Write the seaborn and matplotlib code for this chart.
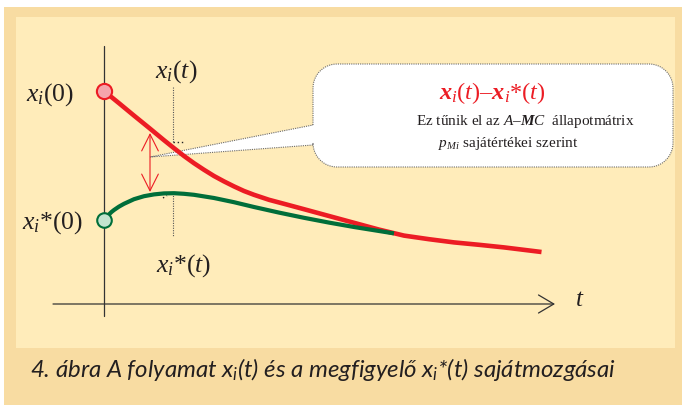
import numpy as np
import matplotlib
matplotlib.use("Agg")
import matplotlib.pyplot as plt
import seaborn as sns
import pandas as pd
from matplotlib.patches import Rectangle, PathPatch
from matplotlib.path import Path

# Process trajectory x_i(t) and observer trajectory x_i*(t)
t_process = [0, 0.3, 0.6, 0.9, 1.2, 1.4, 1.6, 1.8, 2.0, 2.2, 2.4, 2.6, 2.8, 3.0,
             3.3, 3.6, 4.0, 4.5, 5.0, 5.5, 6.0, 6.5, 7.0, 7.5, 8.0, 8.75]
x_process = [10.65, 10.04, 9.42, 8.81, 8.19, 7.79, 7.40, 7.04, 6.71, 6.40, 6.13,
             5.88, 5.65, 5.46, 5.21, 5.01, 4.74, 4.40, 4.06, 3.72, 3.42, 3.24,
             3.08, 2.96, 2.83, 2.60]
t_observer = [0, 0.05, 0.1, 0.15, 0.2, 0.3, 0.4, 0.6, 0.8, 1.0, 1.2, 1.4, 1.6,
              1.8, 2.2, 2.6, 3.0, 3.5, 4.0, 4.5, 5.0, 5.5, 5.8]
x_observer = [4.20, 4.34, 4.48, 4.60, 4.70, 4.87, 5.01, 5.24, 5.39, 5.48, 5.53,
              5.54, 5.51, 5.46, 5.30, 5.09, 4.85, 4.57, 4.31, 4.07, 3.85, 3.65,
              3.53]

# Marked instant t and the error bracket between the two trajectories
t_mark = 1.38
t_gap = 0.92
gap_top, gap_bottom = 8.55, 5.6

RED = "#EC1C24"
GREEN = "#006E3A"
INK = "#231F20"
PANEL = "#FFECBA"
FRAME = "#F8DCA2"

sns.set_theme(style="white")
plt.rcParams.update({
    "font.family": ["Liberation Serif", "DejaVu Serif"],
    "mathtext.fontset": "custom",
    "mathtext.rm": "Liberation Serif",
    "mathtext.it": "Liberation Serif:italic",
    "mathtext.bf": "Liberation Serif:italic:bold",
})

W, H = 682, 405
fig = plt.figure(figsize=(W / 100, H / 100), dpi=100)
fig.patch.set_facecolor("white")

# framed background with a caption strip
fig.add_artist(Rectangle((4 / W, 0), 678 / W, 398 / H, transform=fig.transFigure,
                         facecolor=FRAME, edgecolor="none", zorder=-2))
fig.add_artist(Rectangle((16 / W, 57 / H), 659 / W, 331 / H, transform=fig.transFigure,
                         facecolor=PANEL, edgecolor="none", zorder=-1))

ax = fig.add_axes([0, 0, 1, 1])
ax.set_facecolor("none")
ax.set_xlim(-2.08, 11.56)
ax.set_ylim(-5.05, 15.2)
ax.axis("off")

# coordinate axes
ax.plot([0, 0], [-0.6, 12.9], color="#333333", lw=0.9, zorder=2)
ax.annotate("", xy=(9.02, 0), xytext=(-1.02, 0),
            arrowprops=dict(arrowstyle="->,head_length=1.1,head_width=0.65",
                            color="#333333", lw=0.9, shrinkA=0, shrinkB=0,
                            mutation_scale=10))
ax.annotate("$t$", xy=(9.02, 0), xytext=(25, 4), textcoords="offset pixels",
            ha="center", va="center", fontsize=18, color=INK)

# dotted guides at the marked instant
ax.plot([t_mark, t_mark], [10.85, 8.1], color="#555555", lw=0.8, ls=(0, (1, 1.2)), zorder=2)
ax.plot([t_mark, t_mark + 0.24], [8.1, 8.1], color="#222222", lw=1.0, ls=(0, (1, 2)), zorder=2)
ax.plot([t_mark, t_mark], [5.55, 3.35], color="#555555", lw=0.8, ls=(0, (1, 1.2)), zorder=2)
ax.plot([t_mark - 0.2, t_mark - 0.12], [5.3, 5.42], color="#222222", lw=1.0, ls=(0, (1, 2)), zorder=2)

# callout box with a tail pointing at the error bracket
tip = fig.dpi_scale_trans.inverted().transform(ax.transData.transform((t_gap, 7.35)))
L, R, T, B, r = 3.13, 6.73, 3.41, 2.38, 0.24
y_up, y_lo = 2.80, 2.60


def corner(cx, cy, a0, a1):
    a = np.radians(np.linspace(a0, a1, 14))
    return list(zip(cx + r * np.cos(a), cy + r * np.sin(a)))


verts = [(L, y_up)]
verts += corner(L + r, T - r, 180, 90)
verts += corner(R - r, T - r, 90, 0)
verts += corner(R - r, B + r, 0, -90)
verts += corner(L + r, B + r, 270, 180)
verts += [(L, y_lo), tuple(tip), (L, y_up)]
codes = [Path.MOVETO] + [Path.LINETO] * (len(verts) - 2) + [Path.CLOSEPOLY]
ax.add_patch(PathPatch(Path(verts, codes), transform=fig.dpi_scale_trans,
                       facecolor="white", edgecolor="#6a6a6a", lw=0.8,
                       ls=(0, (1, 1)), zorder=3))

# trajectories
df_p = pd.DataFrame({"t": t_process, "x": x_process})
df_o = pd.DataFrame({"t": t_observer, "x": x_observer})
sns.lineplot(data=df_p, x="t", y="x", ax=ax, color=RED, lw=3.3,
             solid_capstyle="butt", solid_joinstyle="round", zorder=4)
sns.lineplot(data=df_o, x="t", y="x", ax=ax, color=GREEN, lw=3.0,
             solid_capstyle="butt", solid_joinstyle="round", zorder=5)
sns.scatterplot(x=[t_process[0]], y=[x_process[0]], ax=ax, s=120,
                color="#F5A5AC", edgecolor=RED, linewidth=1.5, zorder=6)
sns.scatterplot(x=[t_observer[0]], y=[x_observer[0]], ax=ax, s=110,
                color="#C3E4CF", edgecolor=GREEN, linewidth=1.5, zorder=6)

# error bracket
ax.annotate("", xy=(t_gap, gap_top), xytext=(t_gap, gap_bottom),
            arrowprops=dict(arrowstyle="<->,head_length=1.2,head_width=0.6",
                            color=RED, lw=0.8, shrinkA=0, shrinkB=0,
                            mutation_scale=10), zorder=4)

# curve labels
LBL = 18.5
ax.annotate("$x_i$(0)", xy=(0, x_process[0]), xytext=(-54, -4),
            textcoords="offset pixels", ha="center", va="center",
            fontsize=LBL, color=INK)
ax.annotate("$x_i$*(0)", xy=(0, x_observer[0]), xytext=(-51, -3),
            textcoords="offset pixels", ha="center", va="center",
            fontsize=LBL, color=INK)
ax.annotate("$x_i$($t$)", xy=(t_mark, 10.85), xytext=(3, 15),
            textcoords="offset pixels", ha="center", va="center",
            fontsize=LBL, color=INK)
ax.annotate("$x_i$*($t$)", xy=(t_mark, 3.35), xytext=(11, -29),
            textcoords="offset pixels", ha="center", va="center",
            fontsize=LBL, color=INK)

# callout text
fig.text(492 / W, 1 - 93 / H, r"$\mathbf{x}_i$($t$)–$\mathbf{x}_i$*($t$)",
         ha="center", va="center", fontsize=17.5, color=RED, zorder=7)
fig.text(525 / W, 1 - 122 / H, r"Ez tűnik el az $A$–$\mathbf{M}C$  állapotmátrix",
         ha="center", va="center", fontsize=11, color=INK, zorder=7)
fig.text(508 / W, 1 - 143 / H, r"$p_{Mi}$ sajátértékei szerint",
         ha="center", va="center", fontsize=11, color=INK, zorder=7)

# caption
fig.text(30 / W, 1 - 377 / H,
         r"4. ábra A folyamat $\mathdefault{x}_{\mathdefault{i}}$(t) és a megfigyelő "
         r"$\mathdefault{x}_{\mathdefault{i}}$*(t) sajátmozgásai",
         ha="left", va="baseline", fontsize=17.3, color=INK,
         family="Lato", style="italic")

fig.savefig("out.png", dpi=100)
